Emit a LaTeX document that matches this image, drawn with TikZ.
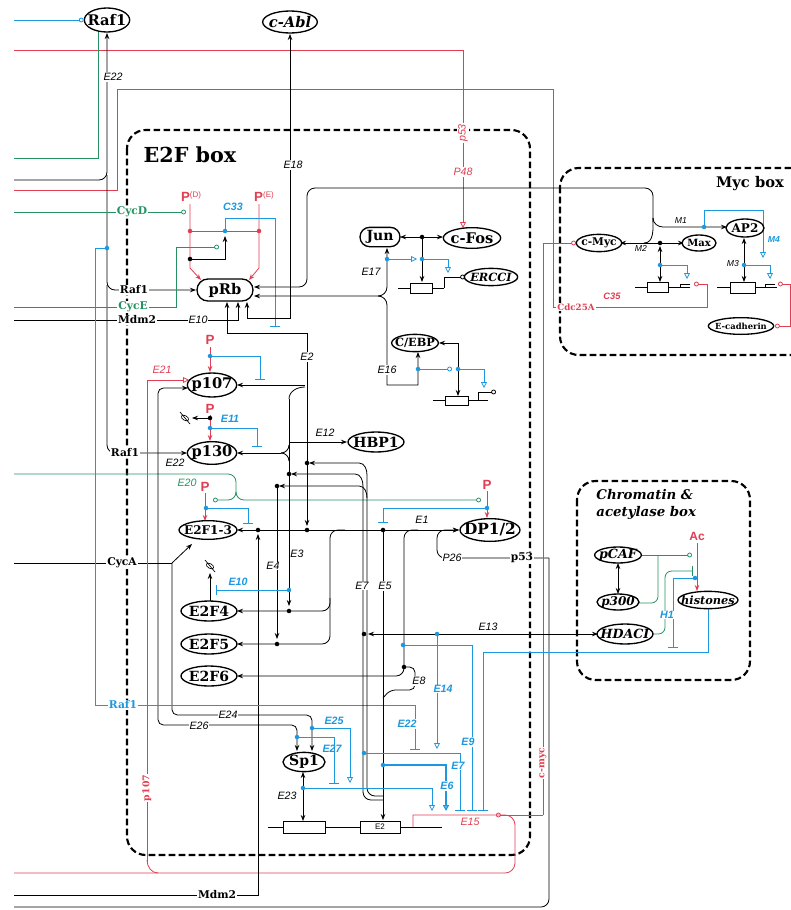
\documentclass[tikz,border=0pt]{standalone}
\usepackage{fontspec}
\setmainfont{DejaVu Serif}
\setsansfont{Liberation Sans}
\usetikzlibrary{arrows.meta,shapes.geometric,shapes.misc}
\definecolor{cr}{RGB}{224,62,82}
\definecolor{cg}{RGB}{38,146,98}
\definecolor{cb}{RGB}{28,152,222}
\newcommand\fsz[1]{\fontsize{#1}{#1}\selectfont}
\tikzset{
  arw/.style={-{Stealth[length=4.5pt,width=3.4pt]}},
  dbl/.style={{Stealth[length=4.5pt,width=3.4pt]}-{Stealth[length=4.5pt,width=3.4pt]}},
  otri/.style={-{Triangle[open,length=4.5pt,width=4.5pt]}},
  ocirc/.style={-{Circle[open,length=3.6pt]}},
  tbar/.style={-{Bar[width=8pt]}},
  nd/.style={draw, ellipse, fill=white, line width=1pt, inner xsep=-5pt, inner ysep=-3pt},
  rnd/.style={draw, rounded rectangle, fill=white, line width=1pt, inner sep=0pt},
  dotk/.style={circle, fill=black, inner sep=0pt, minimum size=3.4pt},
  dotb/.style={circle, fill=cb, inner sep=0pt, minimum size=3.4pt},
  dotr/.style={circle, fill=cr, inner sep=0pt, minimum size=3.4pt},
  lb/.style={font=\sffamily\itshape\fsz{8}, inner sep=0.6pt},
  lbw/.style={lb, fill=white},
  blb/.style={font=\sffamily\itshape\bfseries\fsz{8}, text=cb, inner sep=0.6pt},
  blbw/.style={blb, fill=white},
  mlb/.style={font=\sffamily\itshape\fsz{6.5}, inner sep=0.5pt},
  ll/.style={font=\bfseries\fsz{8}, fill=white, inner sep=0.8pt},
  pl/.style={text=cr, font=\sffamily\bfseries\fsz{10}, inner sep=0pt},
  boxd/.style={draw, line width=1.6pt, dash pattern=on 5pt off 2.5pt, rounded corners=14pt},
}
\begin{document}
\begin{tikzpicture}[x=0.75pt,y=-0.75pt,line width=0.6pt]
\useasboundingbox (0,0) rectangle (791,910);
% ---------------- boxes
\draw[boxd] (127,130) rectangle (530,855);
\draw[boxd] (560,168) rectangle (815,355);
\draw[boxd] (577,481) rectangle (750,680);
\node[font=\bfseries\fsz{15.5}] (t1) at (190,155) {E2F box};
\node[font=\bfseries\fsz{11}] (t2) at (750,184) {Myc box};
\node[font=\bfseries\itshape\fontsize{10}{12.5}\selectfont, align=left, anchor=north west, inner sep=0pt] (t3) at (596,489) {Chromatin \&\\acetylase box};

% ---------------- long lines from the left
\draw[cr] (14,50) -- (463,50);
\draw[cr, otri] (463,50) -- (463,228);
\draw[cr] (14,190) -- (117,190) -- (117,89) -- (553,89) -- (553,307) -- (707,307) -- (707,284);
\draw[cr, ocirc] (707,284) -- (694,284);
\draw[cg] (14,158) -- (98,158) -- (98,31);
\draw[arw, rounded corners=6] (14,180) -- (107,180) -- (107,33);
\draw[arw, rounded corners=6] (107,175) -- (107,290) -- (196,290);
\draw[arw, rounded corners=6] (107,285) -- (107,453) -- (187,453);
\draw[cg, ocirc] (14,212) -- (186,212);
\draw[cg, ocirc] (14,307) -- (176,307) -- (176,247) -- (219,247);
\draw[arw] (14,320) -- (238,320) -- (238,302);
\draw[cg] (14,474) -- (228,474) to[out=0,in=90] (236,482) -- (236,492);
\draw[cg, ocirc] (236,492) to[out=-90,in=0] (228,500) -- (213,500);
\draw[cg, ocirc] (236,492) to[out=-90,in=180] (244,500) -- (481,500);
\draw (14,563) -- (172,563);
\draw[arw] (172,563) -- (192,544);
\draw[arw, rounded corners=4] (172,563) -- (172,715) -- (312,715) -- (312,751);
\draw[dbl, rounded corners=4] (297,751) -- (297,725) -- (158,725) -- (158,388) -- (188,388);
\draw[cr] (413,827) -- (413,815) -- (505,815) to[out=0,in=90] (515,825) -- (515,863) to[out=-90,in=0] (505,873) -- (14,873);
\draw[cr, otri] (147,862) -- (147,380) -- (189,380);
\draw[cr] (147,860) to[out=-90,in=180] (158,873);
\draw[arw] (14,895) -- (258,895) -- (258,534);
\draw[rounded corners=6] (14,907) -- (549,907) -- (549,558);
\draw[arw, rounded corners=6] (549,558) -- (437,558) -- (437,530) -- (459,530);
\draw[cb, tbar] (107,248) -- (95,248) -- (95,705) -- (415,705) -- (415,750);
\node[dotb] (bd0) at (107,248) {};
\draw[cr, ocirc] (543,815) -- (496,815);
\draw[cr, ocirc] (543,815) -- (543,243) -- (576,243);

% ---------------- pRb region
\node[pl] (pd) at (191,197) {P\raisebox{3pt}{\fsz{6}\mdseries(D)}};
\node[pl] (pe) at (264,197) {P\raisebox{3pt}{\fsz{6}\mdseries(E)}};
\draw[cr, arw] (190,204) -- (190,268) -- (201,280);
\draw[cr, arw] (259,204) -- (259,268) -- (249,280);
\draw[cr] (190,231) -- (259,231);
\node[dotr] (rd1) at (190,231) {};
\node[dotr] (rd2) at (259,231) {};
\draw[arw] (190,259) -- (225,259) -- (225,236);
\node[dotk] (kd1) at (190,259) {};
\draw[cb, tbar] (225,231) -- (225,218) -- (275,218) -- (275,327);
\node[dotb] (bd1) at (225,231) {};
\draw[dbl] (307,526) -- (307,333) -- (227,333) -- (227,302);
\draw[dbl] (247,302) -- (247,318) -- (290,318) -- (290,34);
\draw[arw, rounded corners=6] (653,222) -- (653,188) -- (307,188) -- (307,287) -- (254,287);
\draw[dbl] (254,296) -- (378,296) to[out=0,in=-90] (387,287) -- (387,248);
\draw[arw] (378,296) to[out=0,in=90] (387,305) -- (387,385) -- (418,385) -- (418,352);

% Jun / c-Fos
\draw[dbl] (400,237) -- (443,237);
\node[dotk] (kd2) at (422,237) {};
\draw[arw] (422,237) -- (422,282);
\draw (398,288) -- (410,288);
\draw (410,283) rectangle (432,293);
\draw (432,288) -- (444,288);
\draw[ocirc] (444,288) -- (444,277) -- (465,277);
\draw[cb, otri] (387,259) -- (417,259);
\node[dotb] (bd2) at (387,259) {};
\draw[cb, otri] (422,259) -- (448,259) -- (448,273);
\node[dotb] (bd3) at (422,259) {};

% C/EBP
\draw[dbl] (458,396) -- (458,343) -- (439,343);
\draw (433,400) -- (445,400);
\draw (445,396) rectangle (468,405);
\draw (468,400) -- (488,400);
\draw[ocirc] (478,400) -- (478,392) -- (496,392);
\draw[cb, ocirc] (418,369) -- (452,369);
\node[dotb] (bd4) at (418,369) {};
\draw[cb, otri] (458,369) -- (484,369) -- (484,388);
\node[dotb] (bd5) at (458,369) {};

% p107
\node[pl] (pp107) at (210,340) {P};
\draw[cr, arw] (210,347) -- (210,372);
\draw[cb, tbar] (210,356) -- (260,356) -- (260,380);
\node[dotb] (bd6) at (210,356) {};
\draw[arw] (305,385) -- (237,385);
\draw (305,387) to[out=180,in=90] (289,399);

% p130
\node[pl] (pp130) at (210,409) {P};
\draw[cr, arw] (210,415) -- (210,441);
\draw[arw] (210,418) -- (192,418);
\node[dotk] (kd4) at (210,418) {};
\draw[cb, tbar] (210,428) -- (257,428) -- (257,447);
\node[dotb] (bd7) at (210,428) {};
\node[draw, ellipse, minimum width=6pt, minimum height=3.5pt, inner sep=0pt, rotate=-30, line width=0.5pt] (deg1) at (185,418) {};
\draw[line width=0.5pt] (180,412) -- (190,424);
\draw[arw] (281,453) -- (237,453);
\draw (281,453) to[out=0,in=-90] (289,445);
\draw (281,453) to[out=0,in=90] (289,461);
\draw[arw] (289,442) -- (347,442);

% E2 / E3 / E4 verticals
\draw[arw] (289,399) -- (289,606);
\draw[arw] (277,486) -- (277,639);
\draw[arw] (367,475) to[out=90,in=0] (359,463) -- (309,463);
\draw[arw] (363,486) to[out=90,in=0] (355,474) -- (291,474);
\draw[arw] (367,498) to[out=90,in=0] (359,486) -- (279,486);
\node[dotk] (kd5) at (307,463) {};
\node[dotk] (kd6) at (289,474) {};
\node[dotk] (kd7) at (277,486) {};
\draw[rounded corners=6] (363,486) -- (363,800) -- (383,800);
\draw[rounded corners=6] (367,475) -- (367,796) -- (383,796);

% E1 line and E2F's
\draw[dbl] (237,530) -- (459,530);
\node[dotk] (kd8) at (258,530) {};
\node[dotk] (kd9) at (307,530) {};
\node[dotk] (kd10) at (383,530) {};
\node[pl] (pe2f) at (205,487) {P};
\draw[cr, arw] (205,493) -- (205,521);
\draw[cb, tbar] (206,508) -- (248,508) -- (248,524);
\node[dotb] (bd8) at (206,508) {};
\node[pl] (pdp) at (487,485) {P};
\draw[cr, arw] (487,491) -- (487,518);
\draw[cb, tbar] (487,508) -- (383,508) -- (383,523);
\node[dotb] (bd9) at (487,508) {};
\draw[arw, rounded corners=6] (345,530) -- (330,530) -- (330,611) -- (237,611);
\draw[arw, rounded corners=6] (330,598) -- (330,644) -- (237,644);
\draw[arw, rounded corners=6] (418,530) -- (404,530) -- (404,676) -- (237,676);
\node[dotk] (kd11) at (289,611) {};
\node[dotk] (kd12) at (277,644) {};
\draw[arw] (210,602) -- (210,573);
\node[draw, ellipse, minimum width=6pt, minimum height=3.5pt, inner sep=0pt, rotate=-30, line width=0.5pt] (deg2) at (210,566) {};
\draw[line width=0.5pt] (205,560) -- (215,572);
\draw[cb, tbar] (289,590) -- (216,590);
\node[dotb] (bd10) at (289,590) {};

% lower E2F box
\draw[arw] (383,530) -- (383,820);
\node[dotk] (kd13) at (404,667) {};
\draw[rounded corners=4] (404,667) -- (415,667) -- (415,690) -- (390,690) -- (383,698);
\draw[dbl] (368,634) -- (598,634);
\node[dotk] (kd14) at (364,634) {};
\draw[cb, otri] (437,634) -- (437,749);
\node[dotb] (bd11) at (437,634) {};
\draw[cb, tbar] (403,645) -- (472,645) -- (472,811);
\node[dotb] (bd12) at (403,645) {};
\draw[cb, tbar] (708,609) -- (708,652) -- (483,652) -- (483,811);
\draw[cb, tbar] (364,753) -- (460,753) -- (460,811);
\node[dotb] (bd13) at (364,753) {};
\draw[cb, otri, line width=1pt] (383,765) -- (446,765) -- (446,811);
\node[dotb] (bd14) at (383,765) {};
\draw[cb, otri] (303,788) -- (432,788) -- (432,811);
\draw[cb, otri] (312,728) -- (350,728) -- (350,783);
\node[dotb] (bd16) at (312,728) {};
\draw[cb, tbar] (297,737) -- (334,737) -- (334,784);
\node[dotb] (bd17) at (297,737) {};
\draw[dbl] (303,772) -- (303,821);
\node[dotb] (bd15) at (303,788) {};
\draw (268,827) -- (283,827);
\draw (283,821) rectangle (325,833);
\draw (325,827) -- (360,827);
\draw (360,821) rectangle (400,833);
\node[font=\sffamily\fsz{6}, inner sep=0pt] (le2b) at (380,827) {E2};
\draw (400,827) -- (442,827);

% ---------------- Myc box wiring
\draw[arw] (653,218) to[out=-90,in=180] (663,227) -- (727,227);
\draw (653,218) to[out=-90,in=0] (644,243);
\draw[dbl] (620,243) -- (684,243);
\node[dotk] (kd15) at (660,243) {};
\draw[dbl] (660,246) -- (660,282);
\draw (635,287) -- (647,287);
\draw (647,282) rectangle (668,292);
\draw (668,287) -- (690,287);
\draw (680,287) -- (680,284) -- (690,284);
\draw[cb, otri] (660,265) -- (687,265) -- (687,279);
\node[dotb] (bd18) at (660,265) {};
\draw[cb, otri] (704,227) -- (704,210) -- (763,210) -- (763,258);
\node[dotb] (bd19) at (704,227) {};
\draw[dbl] (744,238) -- (744,282);
\draw (717,287) -- (730,287);
\draw (730,282) rectangle (755,293);
\draw (755,287) -- (777,287);
\draw (765,287) -- (765,284) -- (775,284);
\draw[cb, otri] (744,265) -- (770,265) -- (770,279);
\node[dotb] (bd20) at (744,265) {};
\draw[cr, ocirc] (790,284) -- (778,284);
\draw[cr, ocirc] (790,284) -- (790,326) -- (775,326);

% ---------------- chromatin box wiring
\node[pl, font=\sffamily\bfseries\fsz{9}] (lac) at (697,536) {Ac};
\draw[cr, arw] (697,543) -- (697,591);
\draw[cg, ocirc] (642,555) -- (692,555);
\draw[cg, rounded corners=5] (638,603) -- (658,603) -- (658,555);
\draw[cg, tbar, rounded corners=5] (653,634) -- (665,634) -- (665,571) -- (693,571);
\draw[cb, tbar] (695,578) -- (673,578) -- (673,648);
\node[dotb] (bd21) at (695,578) {};
\draw[dbl] (618,563) -- (618,594);

% ---------------- nodes
\node[nd, minimum width=34pt, minimum height=18pt, font=\bfseries\fsz{11}] (raf1) at (107,20) {Raf1};
\draw[cb, ocirc] (14,20) -- (raf1.west);
\node[nd, minimum width=41pt, minimum height=16.5pt, font=\bfseries\itshape\fsz{11}] (cabl) at (290,22) {c-Abl};
\node[rnd, minimum width=42pt, minimum height=16.5pt, font=\bfseries\fsz{11}] (prb) at (225,290) {pRb};
\node[rnd, minimum width=30pt, minimum height=14.5pt, font=\bfseries\fsz{10.5}] (jun) at (380,237) {Jun};
\node[nd, minimum width=43pt, minimum height=15.5pt, font=\bfseries\fsz{11}] (cfos) at (472,238) {c-Fos};
\node[nd, minimum width=40pt, minimum height=13pt, font=\bfseries\itshape\fsz{8.5}] (ercci) at (491,277) {ERCCI};
\node[nd, minimum width=35pt, minimum height=13pt, font=\bfseries\fsz{8.5}] (cebp) at (415,343) {C/EBP};
\node[nd, minimum width=37pt, minimum height=18pt, font=\bfseries\fsz{11}] (p107) at (212,385) {p107};
\node[nd, minimum width=37pt, minimum height=17pt, font=\bfseries\fsz{11}] (p130) at (212,453) {p130};
\node[nd, minimum width=42pt, minimum height=15pt, font=\bfseries\fsz{10.5}] (hbp1) at (376,442) {HBP1};
\node[nd, minimum width=43.5pt, minimum height=14pt, font=\bfseries\fsz{9}] (e2f13) at (208,530) {E2F1-3};
\node[nd, minimum width=45pt, minimum height=17pt, font=\bfseries\fsz{11.5}] (dp12) at (490,530) {DP1/2};
\node[nd, minimum width=42pt, minimum height=15pt, font=\bfseries\fsz{10.5}] (e2f4) at (209,611) {E2F4};
\node[nd, minimum width=42pt, minimum height=15pt, font=\bfseries\fsz{10.5}] (e2f5) at (209,644) {E2F5};
\node[nd, minimum width=42pt, minimum height=15pt, font=\bfseries\fsz{10.5}] (e2f6) at (209,676) {E2F6};
\node[nd, minimum width=31.5pt, minimum height=14.5pt, font=\bfseries\fsz{10.5}] (sp1) at (304,762) {Sp1};
\node[nd, minimum width=34pt, minimum height=13pt, font=\bfseries\fsz{8}] (cmyc) at (599,243) {c-Myc};
\node[nd, minimum width=25.5pt, minimum height=12pt, font=\bfseries\fsz{7.5}] (max) at (699,243) {Max};
\node[nd, minimum width=28.5pt, minimum height=13.5pt, font=\bfseries\fsz{9}] (ap2) at (745,228) {AP2};
\node[nd, minimum width=49pt, minimum height=12.5pt, font=\bfseries\fsz{6.3}] (ecad) at (741,326) {E-cadherin};
\node[nd, minimum width=35pt, minimum height=12pt, font=\bfseries\itshape\fsz{9.5}] (pcaf) at (618,555) {pCAF};
\node[nd, minimum width=31.5pt, minimum height=12pt, font=\bfseries\itshape\fsz{9}] (p300) at (618,602) {p300};
\node[nd, minimum width=45pt, minimum height=13pt, font=\bfseries\itshape\fsz{8.5}] (hist) at (708,600) {histones};
\node[nd, minimum width=42pt, minimum height=15pt, font=\bfseries\itshape\fsz{9.5}] (hdaci) at (625,634) {HDACI};

% ---------------- labels
\node[lbw, text=cr, rotate=90] (lp53) at (463,133) {p53};
\node[lbw, text=cr] (lp48) at (463,172) {P48};
\node[ll, text=cr, font=\bfseries\fsz{6.5}] (lcdc) at (576,307) {Cdc25A};
\node[lb, text=cr, font=\sffamily\itshape\bfseries\fsz{7}] (lc35) at (612,296) {C35};
\node[lbw] (le22a) at (113,77) {E22};
\node[ll] (lraf1a) at (134,290) {Raf1};
\node[ll] (lraf1b) at (125,453) {Raf1};
\node[lb] (le22b) at (175,463) {E22};
\node[ll, text=cg] (lcycd) at (132,212) {CycD};
\node[ll, text=cg] (lcyce) at (133,307) {CycE};
\node[ll] (lmdm2a) at (137,320) {Mdm2};
\node[lbw] (le10a) at (198,320) {E10};
\node[ll] (lcyca) at (122,563) {CycA};
\node[ll, text=cb] (lraf1c) at (123,705) {Raf1};
\node[ll] (lmdm2b) at (217,895) {Mdm2};
\node[ll, text=cr, rotate=90, font=\bfseries\fsz{7}] (lp107) at (147,788) {p107};
\node[ll, text=cr, rotate=90, font=\bfseries\fsz{7}] (lcmyc) at (543,763) {c-myc};
\node[blb] (lc33) at (233,207) {C33};
\node[lbw] (le18) at (293,165) {E18};
\node[lb] (le17) at (371,272) {E17};
\node[lbw] (le16) at (387,370) {E16};
\node[lb, text=cr] (le21) at (162,370) {E21};
\node[lbw] (le2) at (307,357) {E2};
\node[blb] (le11) at (230,419) {E11};
\node[lb] (le12) at (325,433) {E12};
\node[lb, text=cg] (le20) at (187,483) {E20};
\node[lb] (le1) at (422,520) {E1};
\node[lbw] (le3) at (297,554) {E3};
\node[lbw] (le4) at (273,566) {E4};
\node[blb] (le10b) at (238,582) {E10};
\node[lbw] (le7a) at (362,586) {E7};
\node[lbw] (le5) at (385,586) {E5};
\node[lbw] (lp26) at (452,558) {P26};
\node[ll] (lp53b) at (522,558) {p53};
\node[lb] (le13) at (488,627) {E13};
\node[lbw] (le8) at (419,681) {E8};
\node[blbw] (le14) at (443,689) {E14};
\node[lbw] (le24) at (228,715) {E24};
\node[lbw] (le26) at (199,726) {E26};
\node[blb] (le25) at (334,721) {E25};
\node[blbw] (le22c) at (407,724) {E22};
\node[blbw] (le9) at (468,742) {E9};
\node[blb] (le27) at (332,749) {E27};
\node[blbw] (le7b) at (458,766) {E7};
\node[blbw] (le6) at (447,786) {E6};
\node[lb] (le23) at (287,796) {E23};
\node[lb, text=cr] (le15) at (470,822) {E15};
\node[blbw] (lh1) at (667,615) {H1};
\node[mlb] (lm1) at (681,221) {M1};
\node[mlb] (lm2) at (641,248) {M2};
\node[mlb] (lm3) at (733,264) {M3};
\node[mlb, text=cb, font=\sffamily\itshape\bfseries\fsz{6.5}] (lm4) at (774,240) {M4};
\end{tikzpicture}
\end{document}
